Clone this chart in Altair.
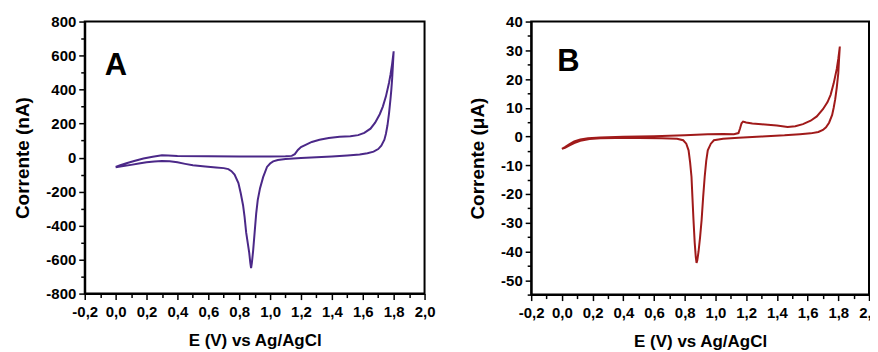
import altair as alt
import pandas as pd

FONT = "Liberation Sans"

# ---------------- Panel A (current in nA) ----------------
a_fwd_E = [0.0, 0.03, 0.07, 0.12, 0.18, 0.24, 0.3, 0.34, 0.4, 0.6, 0.8, 1.0, 1.1, 1.14,
           1.16, 1.18, 1.2, 1.23, 1.27, 1.32, 1.38, 1.45, 1.52, 1.57, 1.61, 1.65, 1.68,
           1.71, 1.73, 1.75, 1.77, 1.78, 1.79, 1.8]
a_fwd_I = [-55, -45, -33, -20, -5, 5, 13, 12, 9, 8, 7, 7, 8, 10,
           20, 45, 62, 75, 92, 105, 115, 122, 125, 132, 145, 170, 205,
           255, 300, 360, 440, 490, 550, 625]
a_rev_E = [1.8, 1.795, 1.79, 1.785, 1.78, 1.77, 1.76, 1.75, 1.74, 1.72, 1.7, 1.67, 1.63,
           1.58, 1.5, 1.4, 1.3, 1.2, 1.1, 1.05, 1.02, 1.0, 0.98, 0.955, 0.935, 0.92, 0.91,
           0.9, 0.89, 0.882, 0.877, 0.872, 0.865, 0.855, 0.845, 0.835, 0.825, 0.81, 0.795,
           0.77, 0.75, 0.73, 0.7, 0.65, 0.58, 0.5, 0.45, 0.4, 0.35, 0.3, 0.25, 0.2, 0.15,
           0.1, 0.05, 0.0]
a_rev_I = [625, 540, 460, 400, 350, 260, 190, 140, 105, 70, 50, 35, 25,
           18, 12, 6, 2, -3, -8, -14, -22, -35, -55, -115, -180, -250, -330,
           -440, -550, -620, -650, -620, -560, -500, -440, -350, -280, -210, -150,
           -100, -80, -68, -62, -58, -52, -45, -37, -28, -22, -20, -23, -28, -35,
           -43, -50, -57]

# ---------------- Panel B (current in uA) ----------------
b_fwd_E = [0.0, 0.02, 0.05, 0.08, 0.12, 0.17, 0.25, 0.4, 0.6, 0.8, 0.95, 1.05, 1.12, 1.15,
           1.16, 1.17, 1.18, 1.2, 1.24, 1.3, 1.4, 1.47, 1.52, 1.57, 1.62, 1.66, 1.7, 1.73,
           1.75, 1.77, 1.79, 1.8, 1.81]
b_fwd_I = [-4.3, -3.7, -2.6, -1.7, -1.0, -0.6, -0.3, -0.1, 0.1, 0.4, 0.8, 0.9, 0.8, 1.2,
           2.8, 4.6, 5.2, 4.9, 4.5, 4.3, 3.8, 3.3, 3.6, 4.3, 5.5, 7.0, 9.5, 12.0,
           14.5, 18.5, 23.5, 27.0, 31.3]
b_rev_E = [1.81, 1.805, 1.8, 1.79, 1.78, 1.77, 1.76, 1.74, 1.72, 1.7, 1.67, 1.62, 1.55,
           1.45, 1.3, 1.15, 1.05, 0.99, 0.97, 0.95, 0.94, 0.93, 0.92, 0.91, 0.9, 0.89,
           0.882, 0.877, 0.872, 0.865, 0.857, 0.85, 0.844, 0.835, 0.825, 0.81, 0.79, 0.75,
           0.65, 0.5, 0.35, 0.25, 0.18, 0.12, 0.08, 0.05, 0.02, 0.0]
b_rev_I = [31.3, 27, 22, 17, 13, 10, 7.5, 4.8, 3.2, 2.3, 1.6, 1.1, 0.8,
           0.4, 0.0, -0.4, -0.8, -1.3, -2.5, -4.8, -8.5, -14, -21, -29, -35, -40,
           -43, -44, -42, -37, -29, -21, -14, -9, -4.8, -2.5, -1.3, -0.8,
           -0.6, -0.5, -0.5, -0.6, -0.9, -1.5, -2.3, -3.1, -3.9, -4.3]

x_tick_values = [-0.2, -0.1, 0.0, 0.1, 0.2, 0.3, 0.4, 0.5, 0.6, 0.7, 0.8, 0.9, 1.0, 1.1,
                 1.2, 1.3, 1.4, 1.5, 1.6, 1.7, 1.8, 1.9, 2.0]
a_y_tick_values = [-800, -700, -600, -500, -400, -300, -200, -100, 0, 100, 200, 300, 400,
                   500, 600, 700, 800]
b_y_tick_values = [-55, -50, -45, -40, -35, -30, -25, -20, -15, -10, -5, 0, 5, 10, 15, 20,
                   25, 30, 35, 40]

panel_labels = ["A", "B"]
label_E = [-0.07, -0.03]
label_I = [483, 22.7]

x_title = "E (V) vs Ag/AgCl"
a_y_title = "Corrente (nA)"
b_y_title = "Corrente (\u03bcA)"
a_color = "#4B2888"
b_color = "#A01A1A"


def loop_df(fE, fI, rE, rI):
    E = fE + rE
    I = fI + rI
    return pd.DataFrame({"E": E, "I": I, "order": list(range(len(E)))})


x_major = "round(datum.value*10) % 2 == 0"
x_axis = alt.Axis(
    values=x_tick_values,
    labelExpr=x_major + " ? replace(replace(format(datum.value, '.1f'), '.', ','), '\u2212', '-') : ''",
    tickSize={"condition": {"test": x_major, "value": 6}, "value": 4},
    labelOverlap=False, labelFlush=False, labelPadding=5,
    title=x_title, titlePadding=13, titleFontSize=17, labelFontSize=15,
)


def y_axis(values, step, title):
    major = f"datum.value % {step} == 0"
    return alt.Axis(
        values=values,
        labelExpr=major + " ? '' + datum.value : ''",
        tickSize={"condition": {"test": major, "value": 6}, "value": 4},
        labelOverlap=False, labelFlush=False, labelPadding=3,
        title=title, titlePadding=13, titleFontSize=19, labelFontSize=15,
    )


def panel(df, color, ydomain, yaxis, w, h, idx):
    xs = alt.Scale(domain=[-0.2, 2.0], nice=False, zero=False)
    ys = alt.Scale(domain=ydomain, nice=False, zero=False)
    line = alt.Chart(df).mark_line(color=color, strokeWidth=2).encode(
        x=alt.X("E:Q", scale=xs, axis=x_axis),
        y=alt.Y("I:Q", scale=ys, axis=yaxis),
        order="order:Q",
    )
    lab = pd.DataFrame({"E": [label_E[idx]], "I": [label_I[idx]], "t": [panel_labels[idx]]})
    text = alt.Chart(lab).mark_text(
        font=FONT, fontSize=31, fontWeight="bold", align="left", baseline="alphabetic",
        color="black",
    ).encode(
        x=alt.X("E:Q", scale=xs, axis=x_axis),
        y=alt.Y("I:Q", scale=ys, axis=yaxis),
        text="t:N",
    )
    return alt.layer(line, text).properties(width=w, height=h)


chart_a = panel(loop_df(a_fwd_E, a_fwd_I, a_rev_E, a_rev_I), a_color, [-800, 800],
                y_axis(a_y_tick_values, 200, a_y_title), 341, 273, 0)
chart_b = panel(loop_df(b_fwd_E, b_fwd_I, b_rev_E, b_rev_I), b_color, [-55, 40],
                y_axis(b_y_tick_values, 10, b_y_title), 339, 274, 1)

chart = alt.hconcat(chart_a, chart_b, spacing=31).properties(
    padding={"left": 4, "top": 5, "right": -11, "bottom": 0},
    background="white",
).configure_view(
    stroke="black", strokeWidth=2,
).configure_axis(
    labelFont=FONT, titleFont=FONT, labelFontWeight="bold", titleFontWeight="bold",
    labelColor="black", titleColor="black", domainColor="black", tickColor="black",
    domainWidth=2, tickWidth=1.5, grid=False,
)

chart.save("out.html", embed_options={"renderer": "svg", "actions": False})
